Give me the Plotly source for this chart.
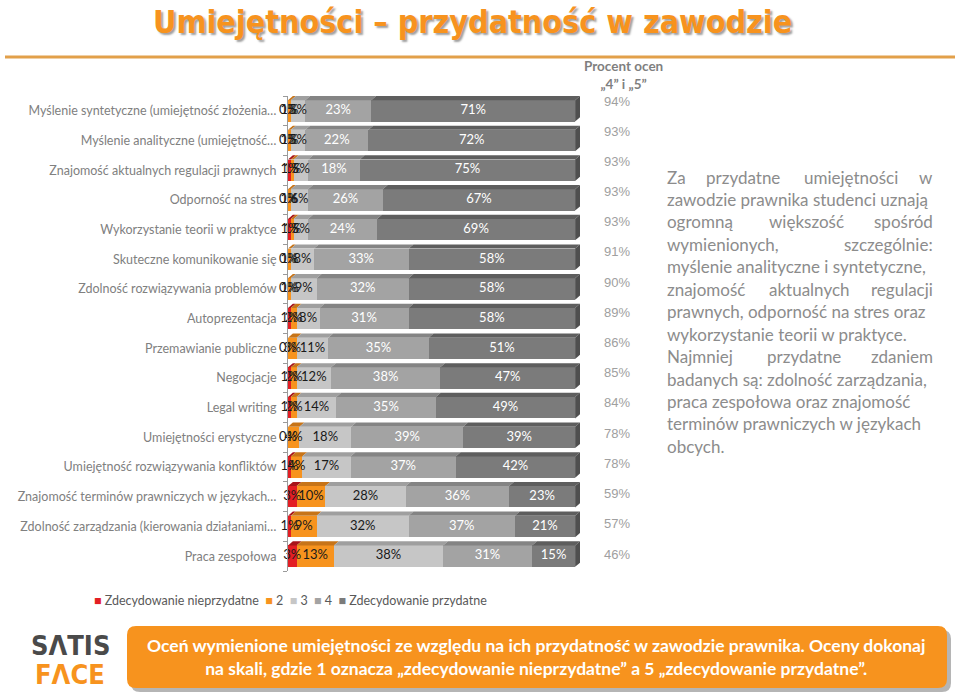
import plotly.graph_objects as go

categories = [
    "Myślenie syntetyczne (umiejętność złożenia…",
    "Myślenie analityczne (umiejętność…",
    "Znajomość aktualnych regulacji prawnych",
    "Odporność na stres",
    "Wykorzystanie teorii w praktyce",
    "Skuteczne komunikowanie się",
    "Zdolność rozwiązywania problemów",
    "Autoprezentacja",
    "Przemawianie publiczne",
    "Negocjacje",
    "Legal writing",
    "Umiejętności erystyczne",
    "Umiejętność rozwiązywania konfliktów",
    "Znajomość terminów prawniczych w językach…",
    "Zdolność zarządzania (kierowania działaniami…",
    "Praca zespołowa",
]
v1 = [0, 0, 1, 0, 1, 0, 0, 1, 0, 1, 1, 0, 1, 3, 1, 3]
v2 = [1, 1, 1, 1, 1, 1, 1, 2, 3, 2, 2, 4, 4, 10, 9, 13]
v3 = [5, 5, 5, 6, 5, 8, 9, 8, 11, 12, 14, 18, 17, 28, 32, 38]
v4 = [23, 22, 18, 26, 24, 33, 32, 31, 35, 38, 35, 39, 37, 36, 37, 31]
v5 = [71, 72, 75, 67, 69, 58, 58, 58, 51, 47, 49, 39, 42, 23, 21, 15]
top45 = ["94%", "93%", "93%", "93%", "93%", "91%", "90%", "89%",
         "86%", "85%", "84%", "78%", "78%", "59%", "57%", "46%"]
series_names = ["Zdecydowanie nieprzydatne", "2", "3", "4", "Zdecydowanie przydatne"]

series = [v1, v2, v3, v4, v5]
colors = ["#e31e24", "#f7931e", "#c6c6c6", "#a3a3a3", "#7b7b7b"]
top_colors = ["#a8151a", "#c77418", "#9f9f9f", "#848484", "#5e5e5e"]
text_colors = ["#1a1a1a", "#1a1a1a", "#1a1a1a", "#ffffff", "#ffffff"]

FONT = "Lato, 'Open Sans', sans-serif"
GRAY = "#808080"

n = len(categories)
ypos = list(range(n))
BARW = 0.72

fig = go.Figure()
for s, name, c in zip(series, series_names, colors):
    fig.add_trace(go.Bar(
        y=ypos, x=s, name=name, orientation="h", width=BARW,
        marker=dict(color=c, line=dict(width=0)),
        hoverinfo="skip", showlegend=False,
    ))

# segment labels on top of all bars (centres of the normalised segments)
lab_x, lab_y, lab_t, lab_c = [], [], [], []
shapes = []
DX, DY = 1.7, 0.14
for i in range(n):
    tot = sum(s[i] for s in series)
    cum = 0.0
    y0 = i - BARW / 2
    y1 = i + BARW / 2
    for k, s in enumerate(series):
        a = cum / tot * 100
        cum += s[i]
        b = cum / tot * 100
        lab_x.append((a + b) / 2)
        lab_y.append(i)
        lab_t.append(f"{s[i]}%")
        lab_c.append(text_colors[k])
        if b - a <= 0:
            continue
        path = f"M {a},{y0} L {b},{y0} L {b+DX},{y0-DY} L {a+DX},{y0-DY} Z"
        shapes.append(dict(type="path", xref="x", yref="y", path=path,
                           fillcolor=top_colors[k], line=dict(width=0), layer="above"))
    path = f"M 100,{y0} L {100+DX},{y0-DY} L {100+DX},{y1-DY} L 100,{y1} Z"
    shapes.append(dict(type="path", xref="x", yref="y", path=path,
                       fillcolor="#4f4f4f", line=dict(width=0), layer="above"))

fig.add_trace(go.Scatter(
    x=lab_x, y=lab_y, mode="text", text=lab_t, textposition="middle center",
    textfont=dict(family=FONT, size=13, color=lab_c), hoverinfo="skip",
    showlegend=False, cliponaxis=False,
))

W, H = 960, 696
def py(p):
    return 1 - p / H
def px(p):
    return p / W

# title underline
shapes.append(dict(type="line", xref="paper", yref="paper", x0=px(5), x1=px(955),
                   y0=py(57), y1=py(57), line=dict(color="#e2a04a", width=3)))
# banner shadow and body (rounded rectangle)
def rounded(x0, y0, x1, y1, r):
    X0, X1 = px(x0), px(x1)
    Y0, Y1 = py(y0), py(y1)
    rx, ry = r / W, r / H
    return (f"M {X0+rx},{Y0} L {X1-rx},{Y0} Q {X1},{Y0} {X1},{Y0-ry} "
            f"L {X1},{Y1+ry} Q {X1},{Y1} {X1-rx},{Y1} L {X0+rx},{Y1} "
            f"Q {X0},{Y1} {X0},{Y1+ry} L {X0},{Y0-ry} Q {X0},{Y0} {X0+rx},{Y0} Z")
shapes.append(dict(type="path", xref="paper", yref="paper", path=rounded(131, 630, 951, 692, 9),
                   fillcolor="rgba(90,90,90,0.45)", line=dict(width=0)))
shapes.append(dict(type="path", xref="paper", yref="paper", path=rounded(127, 626, 947, 688, 9),
                   fillcolor="#f7931e", line=dict(width=0)))

annotations = []
# title
annotations.append(dict(
    text="<b>Umiejętności – przydatność w zawodzie</b>", x=px(472), y=py(22),
    xref="paper", yref="paper", showarrow=False, xanchor="center", yanchor="middle",
    font=dict(family="'DejaVu Sans Condensed', sans-serif", size=32,
              color="#f7931e", shadow="2px 2px 2px #a0a0a0")))

# header of the right column
annotations.append(dict(
    text="<b>Procent ocen</b><br><b>„4” i „5”</b>", x=px(623), y=py(75),
    xref="paper", yref="paper", showarrow=False, xanchor="center", yanchor="middle",
    font=dict(family=FONT, size=13.5, color="#7f7f7f")))
for i, t in enumerate(top45):
    yy = 101 + i * (554 - 101) / (n - 1)
    annotations.append(dict(
        text=t, x=px(617), y=py(yy), xref="paper", yref="paper", showarrow=False,
        xanchor="center", yanchor="middle",
        font=dict(family="'Liberation Sans', Arial, sans-serif", size=13, color="#a0a0a0")))

# paragraph (justified by hand)
para = [
    ["Za", "przydatne", "umiejętności", "w"],
    ["zawodzie prawnika studenci uznają"],
    ["ogromną", "większość", "spośród"],
    ["wymienionych,", "szczególnie:"],
    ["myślenie analityczne i syntetyczne,"],
    ["znajomość", "aktualnych", "regulacji"],
    ["prawnych, odporność na stres oraz"],
    ["wykorzystanie teorii w praktyce."],
    ["Najmniej", "przydatne", "zdaniem"],
    ["badanych są: zdolność zarządzania,"],
    ["praca zespołowa oraz znajomość"],
    ["terminów prawniczych w językach"],
    ["obcych."],
]
mid_x = {0: [704, 802], 2: [767], 5: [767], 8: [765]}
PF = dict(family=FONT, size=17, color="#8c8c8c")
for li, words in enumerate(para):
    yy = py(177 + li * 22.45)
    annotations.append(dict(text=words[0], x=px(665), y=yy, xref="paper", yref="paper",
                            showarrow=False, xanchor="left", yanchor="middle", font=PF))
    if len(words) == 1:
        continue
    annotations.append(dict(text=words[-1], x=px(935), y=yy, xref="paper", yref="paper",
                            showarrow=False, xanchor="right", yanchor="middle", font=PF))
    for w, xs in zip(words[1:-1], mid_x.get(li, [])):
        annotations.append(dict(text=w, x=px(xs), y=yy, xref="paper", yref="paper",
                                showarrow=False, xanchor="left", yanchor="middle", font=PF))

# legend (compact, manual)
leg = "  ".join(f'<span style="color:{c}">■</span> {nm}' for c, nm in zip(colors, series_names))
annotations.append(dict(text=leg, x=px(92), y=py(600), xref="paper", yref="paper",
                        showarrow=False, xanchor="left", yanchor="middle",
                        font=dict(family=FONT, size=12.5, color="#595959")))

# banner text
annotations.append(dict(
    text="<b>Oceń wymienione umiejętności ze względu na ich przydatność w zawodzie prawnika. Oceny dokonaj</b>"
         "<br><b>na skali, gdzie 1 oznacza „zdecydowanie nieprzydatne” a 5 „zdecydowanie przydatne”.</b>",
    x=px(536), y=py(657), xref="paper", yref="paper", showarrow=False,
    xanchor="center", yanchor="middle", align="center",
    font=dict(family=FONT, size=17.5, color="#ffffff")))

# logo
annotations.append(dict(text="<b>SΛTIS</b>", x=px(70), y=py(645), xref="paper", yref="paper",
                        showarrow=False, xanchor="center", yanchor="middle",
                        font=dict(family="'DejaVu Sans Condensed', 'DejaVu Sans', sans-serif",
                                  size=27, color="#4a4a4a")))
annotations.append(dict(text="<b>FΛCE</b>", x=px(70), y=py(674), xref="paper", yref="paper",
                        showarrow=False, xanchor="center", yanchor="middle",
                        font=dict(family="'DejaVu Sans Condensed', 'DejaVu Sans', sans-serif",
                                  size=27, color="#f7931e")))

fig.update_layout(
    width=W, height=H, margin=dict(l=0, r=0, t=0, b=0),
    paper_bgcolor="white", plot_bgcolor="rgba(0,0,0,0)",
    barmode="stack", barnorm="percent", showlegend=False,
    shapes=shapes, annotations=annotations,
    xaxis=dict(domain=[px(288), px(581)], range=[0, 100 + 2.05], visible=False, fixedrange=True),
    yaxis=dict(domain=[py(571), py(96)], range=[n - 0.5, -0.5],
               tickvals=ypos, ticktext=categories, ticks="",
               tickfont=dict(family=FONT, size=12.5, color=GRAY),
               ticklabelstandoff=8,
               showline=True, linecolor="#9a9a9a", linewidth=1,
               minor=dict(tickvals=[i - 0.5 for i in range(n + 1)], ticks="outside",
                          ticklen=4, tickcolor="#9a9a9a"),
               showgrid=False, zeroline=False, fixedrange=True),
)

fig.write_html("out.html")
